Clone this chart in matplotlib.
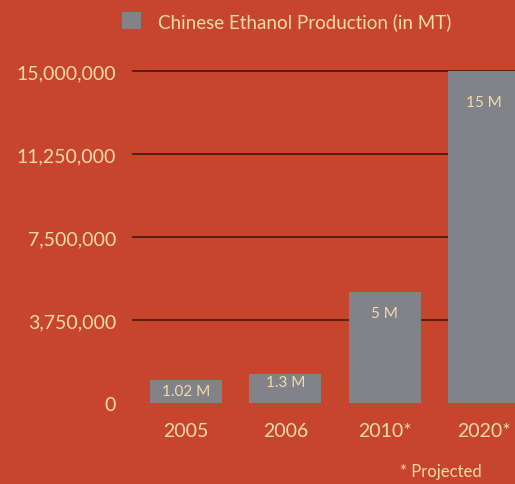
import matplotlib
matplotlib.use("Agg")
import matplotlib.pyplot as plt
from matplotlib.ticker import FuncFormatter

# data
years = ["2005", "2006", "2010*", "2020*"]
production = [1020000, 1300000, 5000000, 15000000]
bar_labels = ["1.02 M", "1.3 M", "5 M", "15 M"]
yticks = [0, 3750000, 7500000, 11250000, 15000000]

BG = "#C8452D"
CREAM = "#F1DCA9"
GRAY = "#818389"
GRID = "#4E1A10"

plt.rcParams['font.family'] = ['Lato', 'DejaVu Sans']

fig = plt.figure(figsize=(5.15, 4.85), dpi=100)
fig.patch.set_facecolor(BG)
ax = fig.add_axes([0.258, 0.167, 0.742, 0.6845])
ax.set_facecolor(BG)

x = range(len(years))
bars = ax.bar(x, production, width=0.725, color=GRAY, zorder=3,
              label="Chinese Ethanol Production (in MT)")

ax.set_ylim(0, 15000000)
ax.set_xlim(-0.534, 3.31)
ax.set_yticks(yticks)
ax.yaxis.set_major_formatter(FuncFormatter(lambda v, p: f"{int(v):,}"))
ax.set_xticks(list(x))
ax.set_xticklabels(years)

for v in yticks[1:]:
    ax.axhline(v, color=GRID, lw=1.3, zorder=1, clip_on=False)
ax.axhline(0, color="#8C6E6E", lw=1.0, zorder=2)

for s in ax.spines.values():
    s.set_visible(False)
ax.tick_params(axis='both', length=0, colors=CREAM, labelsize=14)
ax.tick_params(axis='y', pad=12)
ax.tick_params(axis='x', pad=14, labelsize=14)

# value labels inside bars
offsets = [-11, -8, -21, -31]
for b, lab, off in zip(bars, bar_labels, offsets):
    ax.annotate(lab, (b.get_x() + b.get_width() / 2, b.get_height()),
                xytext=(0, off), textcoords='offset pixels',
                ha='center', va='center', color=CREAM, fontsize=11, zorder=4)

leg = fig.legend(loc='upper left', bbox_to_anchor=(0.212, 1.0), frameon=False,
                 handlelength=1.0, handleheight=1.0, handletextpad=0.9,
                 fontsize=13.5, borderpad=0.2)
for t in leg.get_texts():
    t.set_color(CREAM)

fig.text(0.935, 0.027, "* Projected", color=CREAM, fontsize=12, ha='right', va='center')

fig.savefig("out.png", dpi=100, facecolor=BG)
